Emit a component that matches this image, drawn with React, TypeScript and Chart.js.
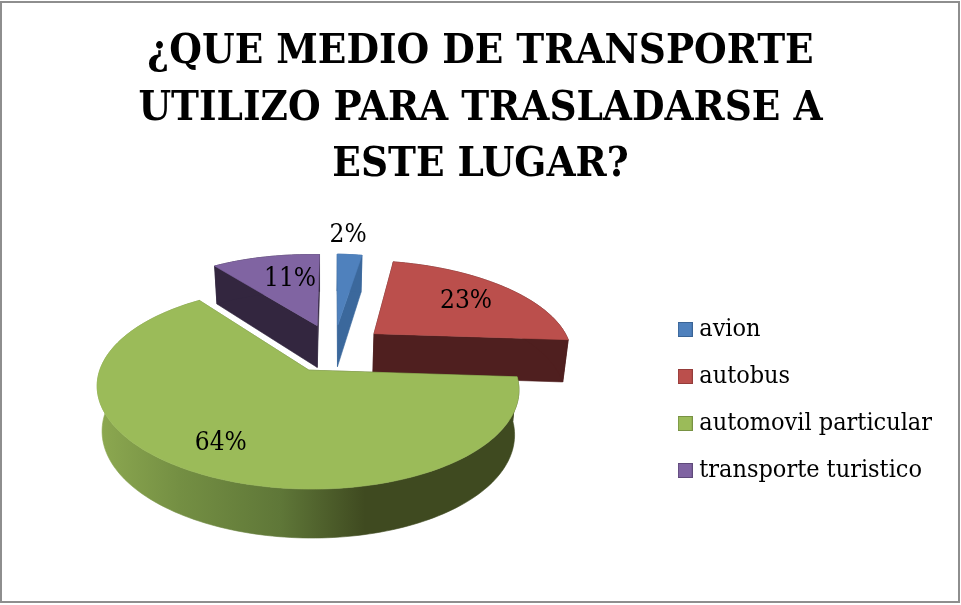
import React, { useEffect, useRef } from "react";
import { Chart, registerables } from "chart.js";

Chart.register(...registerables);

const titleLines = ["¿QUE MEDIO DE TRANSPORTE", "UTILIZO PARA TRASLADARSE A", "ESTE LUGAR?"];
const categories = ["avion", "autobus", "automovil particular", "transporte turistico"];
const shares = [2.4, 23, 64, 10.6];
const topColors = ["#4f81bd", "#bb4f4c", "#9bbb59", "#8064a2"];
const sideColors = ["#3b689c", "#4f1f1f", "#5f7738", "#33263f"];
const legendEdges = ["#3a6496", "#953c3a", "#789243", "#5f4a7a"];
const labelRadii = [1.33, 0.681, 0.762, 0.636];
const labelTurns = [-1.3, 0.4, 1.5, 4];
const paintOrder = [0, 3, 1, 2];

const FONT = '"DejaVu Serif Condensed", "DejaVu Serif", serif';

// Projection of the pie plane: a perspective view of the unit circle.
const view = { cx: 334, cy: 348, rx: 199, ry: 90, persp: 0.17, tilt: 0.02, vanishX: 320, shrink: 0.978 };

type Pt = [number, number];
const project = (X: number, Y: number): Pt => {
  const w = 1 + view.persp * Y;
  const x = view.cx + (view.rx * X) / w;
  const y = view.cy - (view.ry * Y) / w + view.tilt * (view.rx * X) / w;
  return [x, y];
};
const lower = (X: number, Y: number): Pt => {
  const [x, y] = project(X, Y);
  return [view.vanishX + (x - view.vanishX) * view.shrink, y + 43 - 4.8 * Y];
};

const poly = (ctx: CanvasRenderingContext2D, pts: Pt[], fill: string | CanvasGradient) => {
  ctx.beginPath();
  pts.forEach((p, i) => (i ? ctx.lineTo(p[0], p[1]) : ctx.moveTo(p[0], p[1])));
  ctx.closePath();
  ctx.fillStyle = fill;
  ctx.fill();
  ctx.strokeStyle = fill;
  ctx.lineWidth = 0.6;
  ctx.stroke();
};

const pie3d = {
  id: "pie3d",
  beforeDatasetsDraw(chart: any) {
    const ctx: CanvasRenderingContext2D = chart.ctx;
    const arcs = chart.getDatasetMeta(0).data;
    const world = (arc: any) => {
      const e = arc.options.offset / arc.outerRadius;
      const mid = (arc.startAngle + arc.endAngle) / 2;
      return { ax: e * Math.cos(mid), ay: -e * Math.sin(mid), mid };
    };
    ctx.save();
    for (const i of paintOrder) {
      const arc = arcs[i];
      const { ax, ay } = world(arc);
      const n = Math.max(4, Math.ceil((arc.endAngle - arc.startAngle) * 40));
      const rim: [number, number][] = [];
      for (let k = 0; k <= n; k++) {
        const a = arc.startAngle + ((arc.endAngle - arc.startAngle) * k) / n;
        rim.push([ax + Math.cos(a), ay - Math.sin(a)]);
      }
      const loop: [number, number][] = [[ax, ay], ...rim];
      let side: string | CanvasGradient = sideColors[i];
      if (i === 2) {
        const g = ctx.createLinearGradient(100, 0, 365, 0);
        g.addColorStop(0, "#8ca850");
        g.addColorStop(0.3, "#748f43");
        g.addColorStop(0.68, "#5f7738");
        g.addColorStop(1, "#3f4a20");
        side = g;
      }
      const first = rim[0];
      const last = rim[rim.length - 1];
      poly(ctx, [project(ax, ay), project(first[0], first[1]), lower(first[0], first[1]), lower(ax, ay)], side);
      poly(ctx, [project(ax, ay), project(last[0], last[1]), lower(last[0], last[1]), lower(ax, ay)], side);
      poly(
        ctx,
        [...rim.map((p) => project(p[0], p[1])), ...rim.slice().reverse().map((p) => lower(p[0], p[1]))],
        side,
      );
      poly(ctx, loop.map((p) => project(p[0], p[1])), topColors[i]);
    }
    // percentage labels
    ctx.fillStyle = "#000";
    ctx.font = `26px ${FONT}`;
    ctx.textAlign = "center";
    ctx.textBaseline = "middle";
    arcs.forEach((arc: any, i: number) => {
      const { ax, ay, mid } = world(arc);
      const a = mid + (labelTurns[i] * Math.PI) / 180;
      const [x, y] = project(ax + labelRadii[i] * Math.cos(a), ay - labelRadii[i] * Math.sin(a));
      ctx.fillText(`${Math.round(shares[i])}%`, x, y);
    });
    ctx.restore();
    return false;
  },
};

const swatch = (fill: string, edge: string) => {
  const c = document.createElement("canvas");
  c.width = 15;
  c.height = 15;
  const g = c.getContext("2d")!;
  g.fillStyle = fill;
  g.fillRect(0, 0, 15, 15);
  g.strokeStyle = edge;
  g.lineWidth = 1;
  g.strokeRect(0.5, 0.5, 14, 14);
  return c;
};

export default function App() {
  const ref = useRef<HTMLCanvasElement>(null);
  useEffect(() => {
    const chart = new Chart(ref.current!, {
      type: "pie",
      data: {
        labels: categories,
        datasets: [{ data: shares, backgroundColor: topColors, offset: 27, borderWidth: 0 }],
      },
      options: {
        responsive: false,
        animation: false,
        devicePixelRatio: 1,
        radius: 100,
        layout: { padding: { top: 6, right: 19, bottom: 100, left: 19 } },
        plugins: {
          tooltip: { enabled: false },
          title: {
            display: true,
            text: titleLines,
            color: "#000",
            font: { family: FONT, size: 41.7, weight: "bold", lineHeight: 1.355 },
            padding: { top: 18, bottom: 12 },
          },
          legend: {
            display: true,
            position: "right",
            align: "end",
            labels: {
              usePointStyle: true,
              pointStyleWidth: 3,
              boxHeight: 15,
              color: "#000",
              padding: 22,
              font: { family: FONT, size: 25 },
              generateLabels: () =>
                categories.map((text, i) => ({
                  text,
                  index: i,
                  fontColor: "#000",
                  fillStyle: topColors[i],
                  strokeStyle: legendEdges[i],
                  lineWidth: 0,
                  hidden: false,
                  pointStyle: swatch(topColors[i], legendEdges[i]),
                })),
            },
          },
        },
      } as any,
      plugins: [pie3d as any],
    });
    return () => chart.destroy();
  }, []);
  return (
    <div style={{ position: "fixed", left: 0, top: 0, width: 961, height: 605, background: "#fff" }}>
      <canvas ref={ref} width={961} height={605} style={{ display: "block" }} />
      <div
        style={{
          position: "absolute",
          left: 0,
          top: 1,
          width: 960,
          height: 602,
          boxSizing: "border-box",
          border: "2px solid #8e8e8e",
          pointerEvents: "none",
        }}
      />
    </div>
  );
}
